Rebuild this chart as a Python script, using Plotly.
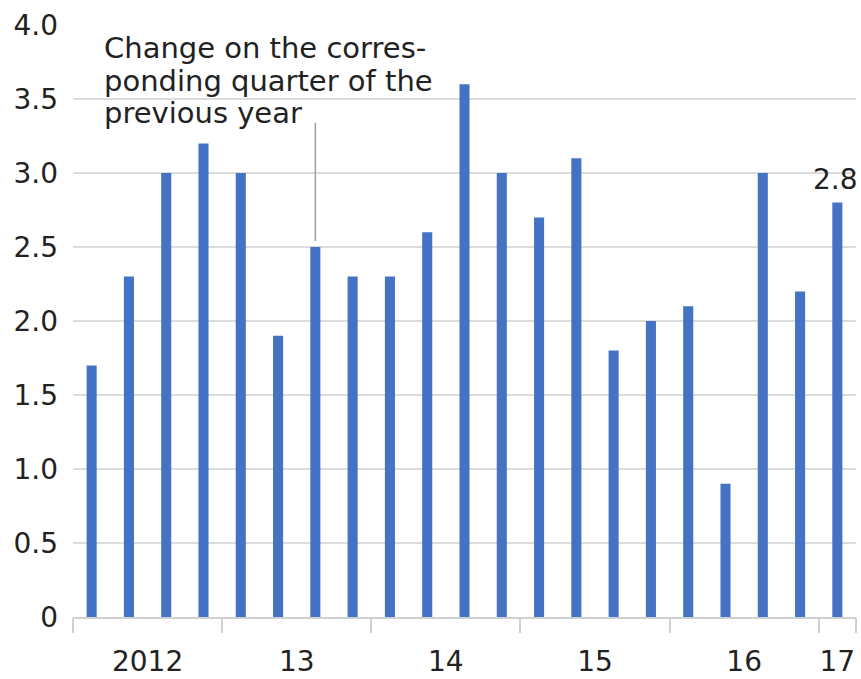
import plotly.graph_objects as go

# quarterly change on the corresponding quarter of the previous year, 2012 Q1 - 2017 Q1
quarters = [f"{y} Q{q}" for y in range(2012, 2017) for q in range(1, 5)] + ["2017 Q1"]
values = [1.7, 2.3, 3.0, 3.2, 3.0, 1.9, 2.5, 2.3, 2.3, 2.6, 3.6, 3.0,
          2.7, 3.1, 1.8, 2.0, 2.1, 0.9, 3.0, 2.2, 2.8]
year_labels = ["2012", "13", "14", "15", "16", "17"]
year_starts = [0, 4, 8, 12, 16, 20]   # index of first quarter of each year
note_lines = ["Change on the corres-", "ponding quarter of the", "previous year"]

FONT = "DejaVu Sans"
TXT = "#222222"
BAR = "#4472c4"
GRID = "#dcdcdc"

x = list(range(len(quarters)))
n = len(quarters)

# year label positions: middle of each year's quarters
label_pos = []
for i, s in enumerate(year_starts):
    e = year_starts[i + 1] if i + 1 < len(year_starts) else n
    label_pos.append((s + e - 1) / 2)
sep_pos = [s - 0.5 for s in year_starts] + [n - 0.5]

fig = go.Figure()
fig.add_trace(go.Bar(
    x=x, y=values, width=0.27, marker_color=BAR, marker_line_width=0,
    hovertext=quarters, showlegend=False,
))
# dummy invisible trace so the separator axis is drawn
fig.add_trace(go.Scatter(x=[x[0]], y=[0], xaxis="x2", mode="markers",
                         marker_opacity=0, showlegend=False, hoverinfo="skip"))

fig.update_layout(
    width=861, height=679,
    margin=dict(l=73, r=5, t=25, b=62),
    plot_bgcolor="white", paper_bgcolor="white",
    font=dict(family=FONT, size=28, color=TXT),
    xaxis=dict(
        range=[-0.5, n - 0.5], tickvals=label_pos, ticktext=year_labels,
        ticks="", showgrid=False, zeroline=False, automargin=False,
        showline=True, linecolor="#d0d0d0", linewidth=2,
        tickfont=dict(size=28), ticklabelstandoff=18,
    ),
    xaxis2=dict(
        overlaying="x", matches="x", side="bottom", anchor="y",
        tickvals=sep_pos, showticklabels=False,
        ticks="outside", ticklen=15, tickwidth=2, tickcolor="#d0d0d0",
        showgrid=False, zeroline=False, automargin=False,
    ),
    yaxis=dict(
        range=[0, 4], automargin=False,
        showgrid=True, gridcolor=GRID, gridwidth=2,
        zeroline=False, ticks="", tickfont=dict(size=28),
        ticklabelstandoff=14,
        tickvals=[0, 0.5, 1, 1.5, 2, 2.5, 3, 3.5, 4],
        ticktext=["0", "0.5", "1.0", "1.5", "2.0", "2.5", "3.0", "3.5", "4.0"],
    ),
)

# value label on the latest quarter
fig.add_annotation(
    x=x[-1], y=values[-1], xref="x", yref="y", yanchor="bottom", yshift=5, xshift=-2,
    text=f"{values[-1]:.1f}", showarrow=False,
    font=dict(family=FONT, size=28, color=TXT),
)

# explanatory note, one annotation per line for tight line spacing
for i, line in enumerate(note_lines):
    fig.add_annotation(
        x=-0.5, y=4, xref="x", yref="y", xshift=29, yshift=-4 - 32.5 * i,
        xanchor="left", yanchor="top", align="left", showarrow=False,
        text=line, font=dict(family=FONT, size=29, color=TXT),
    )
# leader line to 2013 Q3 bar
fig.add_shape(type="line", xref="x", yref="y", x0=6, x1=6, y0=3.34, y1=values[6] + 0.04,
              line=dict(color="#a0a0a0", width=1.5))

# drop the default page margin so the figure fills the window exactly
fig.write_html("out.html", config={"displayModeBar": False},
               post_script="document.body.style.margin='0';document.body.style.overflow='hidden';")
